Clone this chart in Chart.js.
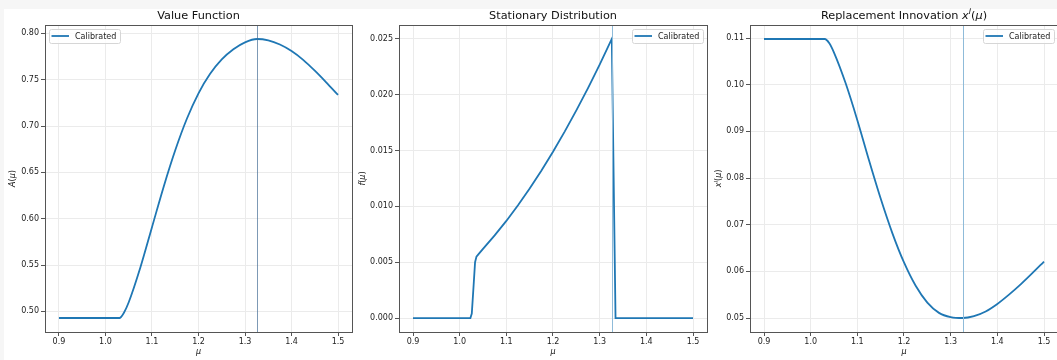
<!DOCTYPE html>
<html>
<head>
<meta charset="utf-8">
<script src="https://cdn.jsdelivr.net/npm/chart.js@4.4.1/dist/chart.umd.min.js"></script>
<style>
  html, body { margin: 0; padding: 0; width: 1057px; height: 360px; overflow: hidden; background: #f6f6f6; }
  #sheet { position: absolute; left: 4px; top: 9px; right: 0; bottom: 0; background: #fff; }
  canvas { position: absolute; top: 0; }
</style>
</head>
<body>
<div id="sheet"></div>
<canvas id="valueChart" width="358" height="360" style="left:0px"></canvas>
<canvas id="distChart" width="360" height="360" style="left:354px"></canvas>
<canvas id="innovChart" width="360" height="360" style="left:705px"></canvas>
<script>
// --- DATA ---
const muStar = 1.326;
const muGrid = [0.9, 1.0, 1.03, 1.04, 1.05, 1.075, 1.1, 1.125, 1.15, 1.175, 1.2, 1.225, 1.25,
                1.275, 1.3, 1.326, 1.35, 1.375, 1.4, 1.425, 1.45, 1.475, 1.5];
const valueA = [0.4928, 0.4928, 0.4928, 0.4988, 0.5098, 0.5473, 0.5908, 0.6343, 0.6738, 0.7078,
                0.7353, 0.7563, 0.7718, 0.7828, 0.7903, 0.7939, 0.7924, 0.7879, 0.7809, 0.7714,
                0.7597, 0.7469, 0.7335];
const innovX = [0.1098, 0.1098, 0.1098, 0.1089, 0.1069, 0.1003, 0.0924, 0.0838, 0.0756, 0.0682,
                0.0619, 0.0569, 0.0533, 0.0511, 0.0502, 0.0500, 0.0504, 0.0514, 0.0530, 0.0550,
                0.0572, 0.0596, 0.0621];
const distMu = [0.9, 1.0, 1.023, 1.026, 1.030, 1.033, 1.036, 1.04, 1.05, 1.075, 1.1, 1.125, 1.15,
                1.175, 1.2, 1.225, 1.25, 1.275, 1.3, 1.326, 1.334, 1.4, 1.5];
const distF = [0, 0, 0, 0.0004, 0.0030, 0.0050, 0.0055, 0.0057, 0.0062, 0.0074, 0.0087, 0.0101,
               0.0116, 0.0132, 0.0149, 0.0167, 0.0186, 0.0206, 0.0227, 0.0250, 0, 0, 0];

const xTicks = [0.9, 1.0, 1.1, 1.2, 1.3, 1.4, 1.5];
const valueTicks = [0.50, 0.55, 0.60, 0.65, 0.70, 0.75, 0.80];
const distTicks = [0.000, 0.005, 0.010, 0.015, 0.020, 0.025];
const innovTicks = [0.05, 0.06, 0.07, 0.08, 0.09, 0.10, 0.11];

const C0 = '#1f77b4';
const FONT = 'DejaVu Sans';
const GRID = '#ebebeb';

// draw mathtext-like pieces: {t, it, sup}
function drawRich(ctx, segs, x, y, size) {
    const parts = segs.map(s => {
        const sz = s.sup ? size * 0.7 : size;
        ctx.font = (s.it ? 'italic ' : '') + sz + 'px "' + FONT + '"';
        return { s, sz, w: ctx.measureText(s.t).width };
    });
    const total = parts.reduce((a, p) => a + p.w, 0);
    let cx = x - total / 2;
    ctx.textBaseline = 'middle';
    ctx.textAlign = 'left';
    parts.forEach(p => {
        ctx.font = (p.s.it ? 'italic ' : '') + p.sz + 'px "' + FONT + '"';
        ctx.fillText(p.s.t, cx, p.s.sup ? y - size * 0.35 : y);
        cx += p.w;
    });
}

const decorPlugin = {
    id: 'decor',
    afterDatasetsDraw(chart, args, opts) {
        const ctx = chart.ctx;
        const a = chart.chartArea;
        const xs = chart.scales.x;
        ctx.save();
        // vertical line at mu*
        const vx = Math.round(xs.getPixelForValue(muStar)) + 0.5;
        ctx.strokeStyle = opts.vColor;
        ctx.lineWidth = 1;
        ctx.beginPath();
        ctx.moveTo(vx, a.top);
        ctx.lineTo(vx, a.bottom);
        ctx.stroke();
        // frame
        ctx.strokeStyle = '#555';
        ctx.lineWidth = 1;
        ctx.strokeRect(Math.round(a.left) + 0.5, Math.round(a.top) + 0.5,
                       Math.round(a.right - a.left), Math.round(a.bottom - a.top));
        // legend
        const ds = chart.data.datasets[0];
        const bw = 71, bh = 14;
        const bx = opts.legendRight ? a.right - 4 - bw : a.left + 4;
        const by = a.top + 4;
        ctx.fillStyle = 'rgba(255,255,255,0.85)';
        ctx.strokeStyle = '#d6d6d6';
        ctx.beginPath();
        ctx.roundRect(Math.round(bx) + 0.5, by + 0.5, bw, bh, 2);
        ctx.fill();
        ctx.stroke();
        ctx.strokeStyle = ds.borderColor;
        ctx.lineWidth = 1.8;
        ctx.beginPath();
        ctx.moveTo(bx + 2.5, by + 7);
        ctx.lineTo(bx + 20, by + 7);
        ctx.stroke();
        ctx.fillStyle = '#222';
        ctx.font = '8px "' + FONT + '"';
        ctx.textAlign = 'left';
        ctx.textBaseline = 'middle';
        ctx.fillText(ds.label, bx + 26, by + 7.5);
        // title
        ctx.fillStyle = '#111';
        drawRich(ctx, opts.title, (a.left + a.right) / 2, 16, 11.3);
        // x label
        drawRich(ctx, [{ t: 'μ', it: true }], (a.left + a.right) / 2, 352, 8);
        // y label, rotated
        ctx.save();
        ctx.translate(a.left - opts.yLabelGap, (a.top + a.bottom) / 2);
        ctx.rotate(-Math.PI / 2);
        drawRich(ctx, opts.yLabel, 0, 0, 8);
        ctx.restore();
        ctx.restore();
    }
};

function makeChart(id, xs, ys, cfg) {
    const pts = xs.map((x, i) => ({ x, y: ys[i] }));
    return new Chart(document.getElementById(id), {
        type: 'line',
        data: {
            datasets: [{
                label: 'Calibrated',
                data: pts,
                borderColor: C0,
                borderWidth: 1.8,
                pointRadius: 0,
                fill: false,
                tension: 0,
                cubicInterpolationMode: cfg.mode
            }]
        },
        options: {
            responsive: false,
            animation: false,
            devicePixelRatio: 1,
            layout: { padding: { top: 25, left: 0, right: cfg.padRight, bottom: 0 } },
            scales: {
                x: {
                    type: 'linear',
                    min: 0.87, max: 1.53,
                    afterBuildTicks: s => { s.ticks = xTicks.map(v => ({ value: v })); },
                    afterFit: s => { s.height = 28; },
                    grid: { color: GRID, tickColor: '#555', tickLength: 4 },
                    border: { display: false },
                    ticks: { callback: v => v.toFixed(1), padding: 1, maxRotation: 0,
                             color: '#222', font: { family: FONT, size: 8 } }
                },
                y: {
                    type: 'linear',
                    min: cfg.yMin, max: cfg.yMax,
                    afterBuildTicks: s => { s.ticks = cfg.yTicks.map(v => ({ value: v })); },
                    afterFit: s => { s.width = cfg.yWidth; },
                    grid: { color: GRID, tickColor: '#555', tickLength: 4 },
                    border: { display: false },
                    ticks: { callback: v => v.toFixed(cfg.dec), padding: 2,
                             color: '#222', font: { family: FONT, size: 8 } }
                }
            },
            plugins: {
                legend: { display: false },
                title: { display: false },
                tooltip: { enabled: false },
                decor: cfg.decor
            }
        },
        plugins: [decorPlugin]
    });
}

makeChart('valueChart', muGrid, valueA, {
    yMin: 0.4777, yMax: 0.8090, yTicks: valueTicks, dec: 2, yWidth: 45, padRight: 6, mode: 'monotone',
    decor: { vColor: 'rgba(70,110,150,0.7)', legendRight: false, yLabelGap: 32,
             title: [{ t: 'Value Function' }],
             yLabel: [{ t: 'A', it: true }, { t: '(' }, { t: 'μ', it: true }, { t: ')' }] }
});

makeChart('distChart', distMu, distF, {
    yMin: -0.00125, yMax: 0.02625, yTicks: distTicks, dec: 3, yWidth: 45, padRight: 7, mode: 'default',
    decor: { vColor: '#8fbbd9', legendRight: true, yLabelGap: 36,
             title: [{ t: 'Stationary Distribution' }],
             yLabel: [{ t: 'f', it: true }, { t: '(' }, { t: 'μ', it: true }, { t: ')' }] }
});

makeChart('innovChart', muGrid, innovX, {
    yMin: 0.047, yMax: 0.1128, yTicks: innovTicks, dec: 2, yWidth: 45, padRight: 7, mode: 'monotone',
    decor: { vColor: '#8fbbd9', legendRight: true, yLabelGap: 31,
             title: [{ t: 'Replacement Innovation ' }, { t: 'x', it: true }, { t: 'I', it: true, sup: true },
                     { t: '(' }, { t: 'μ', it: true }, { t: ')' }],
             yLabel: [{ t: 'x', it: true }, { t: 'I', it: true, sup: true }, { t: '(' },
                      { t: 'μ', it: true }, { t: ')' }] }
});
</script>
</body>
</html>
